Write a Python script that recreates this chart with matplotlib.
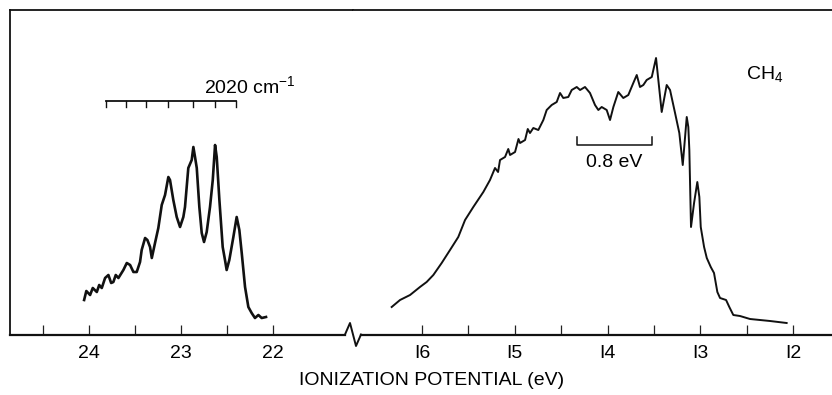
import matplotlib.pyplot as plt
from matplotlib.lines import Line2D

plt.rcParams['font.family'] = ['Liberation Sans', 'DejaVu Sans']
plt.rcParams['mathtext.default'] = 'regular'

# outer valence band (~22-24 eV), ionization potential in eV and relative intensity
e_inner = [24.054, 24.030, 23.989, 23.960, 23.916, 23.890, 23.862, 23.826, 23.790, 23.760,
           23.736, 23.710, 23.681, 23.627, 23.590, 23.554, 23.518, 23.482, 23.446, 23.428,
           23.391, 23.366, 23.337, 23.318, 23.283, 23.247, 23.210, 23.174, 23.138, 23.120,
           23.084, 23.047, 23.011, 22.975, 22.957, 22.921, 22.884, 22.866, 22.848, 22.829,
           22.801, 22.775, 22.750, 22.721, 22.685, 22.655, 22.630, 22.612, 22.583, 22.547,
           22.522, 22.504, 22.475, 22.431, 22.395, 22.366, 22.340, 22.304, 22.268, 22.232,
           22.196, 22.159, 22.123, 22.076]
i_inner = [35, 44, 40, 47, 43, 50, 47, 57, 60, 52,
           53, 60, 57, 65, 72, 70, 63, 63, 73, 85,
           97, 95, 88, 77, 92, 107, 130, 140, 158, 155,
           135, 118, 108, 118, 128, 167, 175, 188, 178, 167,
           128, 102, 93, 103, 128, 155, 190, 178, 135, 88,
           75, 65, 75, 98, 118, 105, 82, 48, 28, 22,
           17, 20, 17, 18]

# first band (~12-16.5 eV)
e_outer = [16.327, 16.237, 16.129, 16.022, 15.950, 15.878, 15.788, 15.698, 15.609, 15.536,
           15.447, 15.339, 15.267, 15.213, 15.180, 15.159, 15.105, 15.070, 15.051, 14.997,
           14.960, 14.943, 14.889, 14.860, 14.836, 14.800, 14.746, 14.692, 14.656, 14.602,
           14.548, 14.512, 14.477, 14.423, 14.386, 14.332, 14.296, 14.243, 14.189, 14.135,
           14.099, 14.063, 14.009, 13.973, 13.937, 13.884, 13.830, 13.776, 13.722, 13.685,
           13.650, 13.614, 13.578, 13.523, 13.477, 13.416, 13.362, 13.326, 13.272, 13.226,
           13.189, 13.164, 13.146, 13.129, 13.118, 13.100, 13.067, 13.032, 13.010, 12.995,
           12.959, 12.930, 12.887, 12.852, 12.816, 12.787, 12.722, 12.687, 12.644, 12.572,
           12.464, 12.356, 12.248, 12.159, 12.069]
i_outer = [28, 35, 40, 48, 53, 60, 72, 85, 98, 115,
           128, 143, 155, 167, 163, 175, 178, 186, 180, 183,
           196, 192, 195, 206, 202, 207, 205, 215, 225, 230,
           233, 242, 237, 238, 245, 248, 245, 248, 242, 230,
           225, 228, 225, 215, 228, 243, 237, 240, 252, 260,
           248, 250, 255, 258, 277, 223, 250, 245, 222, 202,
           170, 198, 218, 208, 185, 108, 132, 153, 138, 108,
           88, 77, 68, 62, 43, 37, 35, 28, 20, 19,
           16, 15, 14, 13, 12]

ticks_inner = [24.5, 24, 23.5, 23, 22.5, 22]
labels_inner = ['', '24', '', '23', '', '22']
ticks_outer = [16, 15.5, 15, 14.5, 14, 13.5, 13, 12.5, 12]
labels_outer = ['I6', '', 'I5', '', 'I4', '', 'I3', '', 'I2']

# vibrational comb over the inner band, 2020 cm-1 spacing
comb = [23.818, 23.601, 23.380, 23.138, 22.872, 22.627, 22.402]
bar_08 = [14.326, 13.52]

W, H = 832, 395
fig = plt.figure(figsize=(W / 100, H / 100), dpi=100)
ax1 = fig.add_axes([10 / W, 60 / H, 343 / W, 325 / H])
ax2 = fig.add_axes([353 / W, 60 / H, 1 - 353 / W, 325 / H])

for ax in (ax1, ax2):
  ax.set_ylim(0, 325)
  ax.set_yticks([])
  ax.tick_params(axis='x', direction='in', length=7.5, width=0.9, pad=7, labelsize=14, color='#222222')
  for s in ax.spines.values():
    s.set_linewidth(1.3)
    s.set_color('#111111')
  ax.spines['bottom'].set_linewidth(1.6)

ax1.set_xlim(24.86, 21.13)
ax2.set_xlim(16.744, 11.58)
ax1.spines['right'].set_visible(False)
ax2.spines['left'].set_visible(False)
ax2.spines['right'].set_visible(False)
ax1.spines['bottom'].set_bounds(24.86, 21.217)
ax2.spines['bottom'].set_bounds(16.658, 11.58)

ax1.set_xticks(ticks_inner, labels_inner)
ax2.set_xticks(ticks_outer, labels_outer)

ax1.plot(e_inner, i_inner, color='#111111', lw=1.9)
ax2.plot(e_outer, i_outer, color='#111111', lw=1.4)

# axis break zigzag
zx = [345, 350, 356, 361]
zy = [334.5, 323, 346, 334.5]
fig.add_artist(Line2D([x / W for x in zx], [1 - y / H for y in zy], color='#111111', lw=1.4))

# 2020 cm-1 comb
ax1.plot([comb[0], comb[-1]], [234, 234], color='#111111', lw=1.3)
for c in comb:
  ax1.plot([c, c], [234, 228], color='#111111', lw=1.0)
ax1.text(22.75, 242, '2020 cm$^{-1}$', fontsize=14, ha='left', va='baseline')

# 0.8 eV scale bar
ax2.plot([bar_08[0], bar_08[0], bar_08[1], bar_08[1]], [198, 190, 190, 198], color='#111111', lw=1.1)
ax2.text(sum(bar_08) / 2, 168, '0.8 eV', fontsize=14, ha='center', va='baseline')

ax2.text(12.507, 256, 'CH$_4$', fontsize=14, ha='left', va='baseline')

fig.text(432 / W, 10 / H, 'IONIZATION POTENTIAL (eV)', fontsize=14, ha='center', va='baseline')

plt.savefig('out.png', dpi=100)
